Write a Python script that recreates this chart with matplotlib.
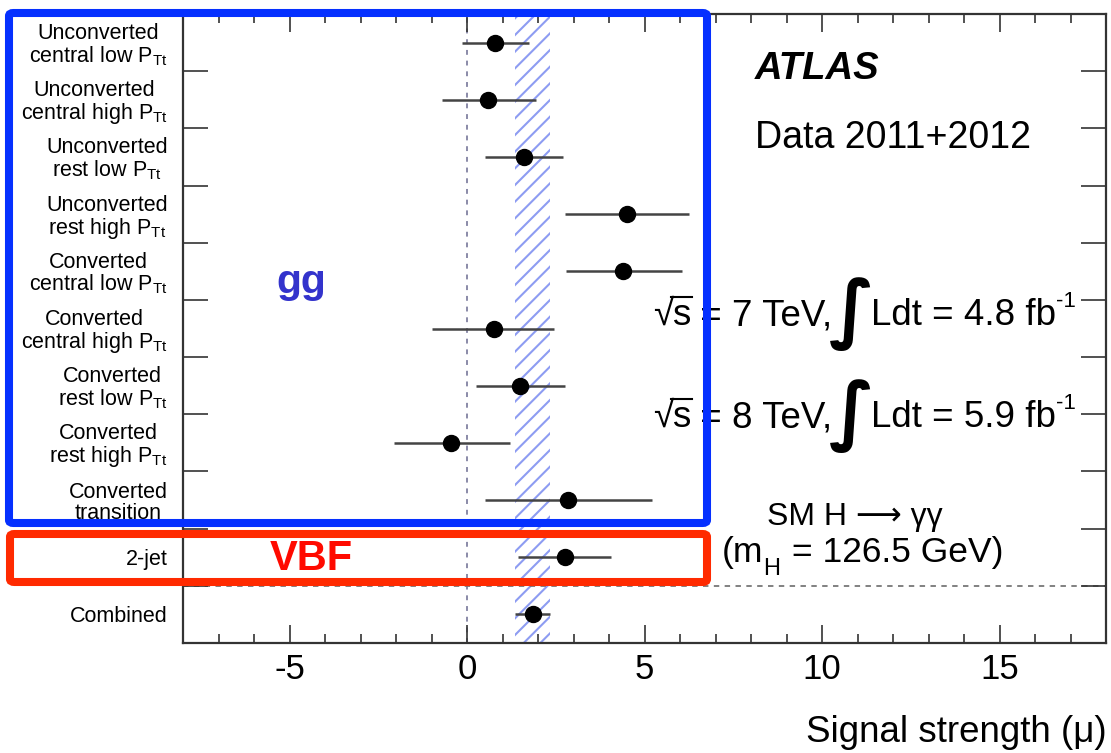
import numpy as np
import matplotlib
matplotlib.use("Agg")
import matplotlib.pyplot as plt
from matplotlib.patches import FancyBboxPatch, Rectangle
from matplotlib.lines import Line2D

plt.rcParams['font.family'] = ['Liberation Sans', 'DejaVu Sans']
plt.rcParams['mathtext.fontset'] = 'custom'
plt.rcParams['mathtext.rm'] = 'Liberation Sans'
plt.rcParams['mathtext.it'] = 'Liberation Sans:italic'
plt.rcParams['mathtext.bf'] = 'Liberation Sans:bold'
plt.rcParams['hatch.linewidth'] = 1.5

# Categories (top to bottom) and measured signal strengths
categories = [
    "Unconverted\ncentral low P$_{\\rm Tt}$",
    "Unconverted\ncentral high P$_{\\rm Tt}$",
    "Unconverted\nrest low P$_{\\rm Tt}$",
    "Unconverted\nrest high P$_{\\rm Tt}$",
    "Converted\ncentral low P$_{\\rm Tt}$",
    "Converted\ncentral high P$_{\\rm Tt}$",
    "Converted\nrest low P$_{\\rm Tt}$",
    "Converted\nrest high P$_{\\rm Tt}$",
    "Converted\ntransition",
    "2-jet",
    "Combined",
]
mu = [0.8, 0.6, 1.6, 4.5, 4.4, 0.75, 1.5, -0.45, 2.85, 2.75, 1.85]
err_lo = [0.95, 1.3, 1.1, 1.75, 1.6, 1.75, 1.25, 1.6, 2.35, 1.3, 0.5]
err_hi = [0.95, 1.35, 1.1, 1.75, 1.65, 1.7, 1.25, 1.65, 2.35, 1.3, 0.5]
xticks = [-5, 0, 5, 10, 15]

W, H = 1111, 753
fig = plt.figure(figsize=(W / 100, H / 100), dpi=100)
ax = fig.add_axes([183 / W, 1 - 643 / H, (1106 - 183) / W, (643 - 14) / H])

n = len(categories)
rows = np.arange(n)

# Combined-result band
band_lo = mu[-1] - err_lo[-1]
band_hi = mu[-1] + err_hi[-1]
ax.add_patch(Rectangle((band_lo, -0.5), band_hi - band_lo, n, facecolor='none',
                       edgecolor='#8d9cf2', hatch='//', linewidth=0, zorder=1))

# Reference lines
ax.axvline(0, color='#8a8aa8', linestyle=(0, (2.5, 3)), linewidth=1.4, zorder=1)
ax.axhline(n - 1.5, color='#777777', linestyle=(0, (3, 3)), linewidth=1.3, zorder=1)

ax.errorbar(mu, rows, xerr=[err_lo, err_hi], fmt='o', color='black',
            ecolor='#444444', elinewidth=1.8, capsize=0, markersize=11.5, zorder=3)

ax.set_xlim(-8, 18)
ax.set_ylim(n - 0.5, -0.5)
ax.set_xticks(xticks)
ax.set_xticklabels([str(t) for t in xticks], fontsize=25)
ax.set_xticks(np.arange(-7, 18, 1), minor=True)
ax.set_yticks(rows)
ax.set_yticklabels(categories, fontsize=15.5, linespacing=1.0)
for lab in ax.get_yticklabels():
    lab.set_multialignment('center')
ax.set_yticks(np.arange(0.5, n - 0.5, 1), minor=True)

ax.tick_params(axis='x', which='major', direction='in', top=True, bottom=True,
               length=13, width=1.2, color='#333333', pad=7)
ax.tick_params(axis='x', which='minor', direction='in', top=True, bottom=True,
               length=6.5, width=1.2, color='#333333')
ax.tick_params(axis='y', which='major', length=0, pad=11)
ax.tick_params(axis='y', which='minor', direction='in', left=True, right=True,
               length=18, width=1.2, color='#333333')
for s in ax.spines.values():
    s.set_color('#333333')
    s.set_linewidth(1.6)

renderer = fig.canvas.get_renderer()


def put(x, y, s, **kw):
    """Place text with its baseline at image pixel (x, y); return right edge in pixels."""
    kw.setdefault('va', 'baseline')
    t = fig.text(x / W, 1 - y / H, s, **kw)
    bb = t.get_window_extent(renderer)
    return bb.x1


put(1107, 742, "Signal strength (μ)", fontsize=26.5, ha='right')

# Header and dataset text
put(755, 79, "ATLAS", fontsize=27.5, fontweight='bold', style='italic')
put(755, 148, "Data 2011+2012", fontsize=27)

fs = 26.5
for base, energy, lumi in [(325, "7", "4.8"), (427, "8", "5.9")]:
    x = put(653, base, "√", fontsize=fs)
    x_s = put(x - 1, base, "s", fontsize=fs)
    ytop = base - 0.76 * fs * 100 / 72
    fig.add_artist(Line2D([(x - 2) / W, (x_s + 1) / W], [1 - ytop / H] * 2,
                          color='black', linewidth=1.5, transform=fig.transFigure))
    x = put(x_s, base, " = %s TeV," % energy, fontsize=fs)
    x = put(x - 4, base + 9, "∫", fontsize=54, family='DejaVu Sans', fontweight='bold')
    x = put(x - 3, base, "Ldt = %s fb" % lumi, fontsize=fs)
    put(x, base - 18, "-1", fontsize=16)

x = put(767, 525, "SM H ⟶ γγ", fontsize=23)
x = put(722, 562, "(m", fontsize=25.5)
x = put(x, 575, "H", fontsize=17)
put(x + 2, 562, " = 126.5 GeV)", fontsize=25.5)

# Production-mode groupings
put(301, 293, "gg", fontsize=29.5, fontweight='bold', color='#3333cc', ha='center')
put(311, 570, "VBF", fontsize=30, fontweight='bold', color='#ff0a00', ha='center')

for (x0, y0, x1, y1), col in [((9, 13, 707, 523), '#0530ff'),
                              ((10, 534, 707, 582), '#ff2a00')]:
    box = FancyBboxPatch((x0 / W, 1 - y1 / H), (x1 - x0) / W, (y1 - y0) / H,
                         boxstyle="round,pad=0,rounding_size=0.004",
                         transform=fig.transFigure, facecolor='none',
                         edgecolor=col, linewidth=5.8, zorder=10)
    fig.patches.append(box)

fig.savefig("out.png", dpi=100, facecolor='white')
